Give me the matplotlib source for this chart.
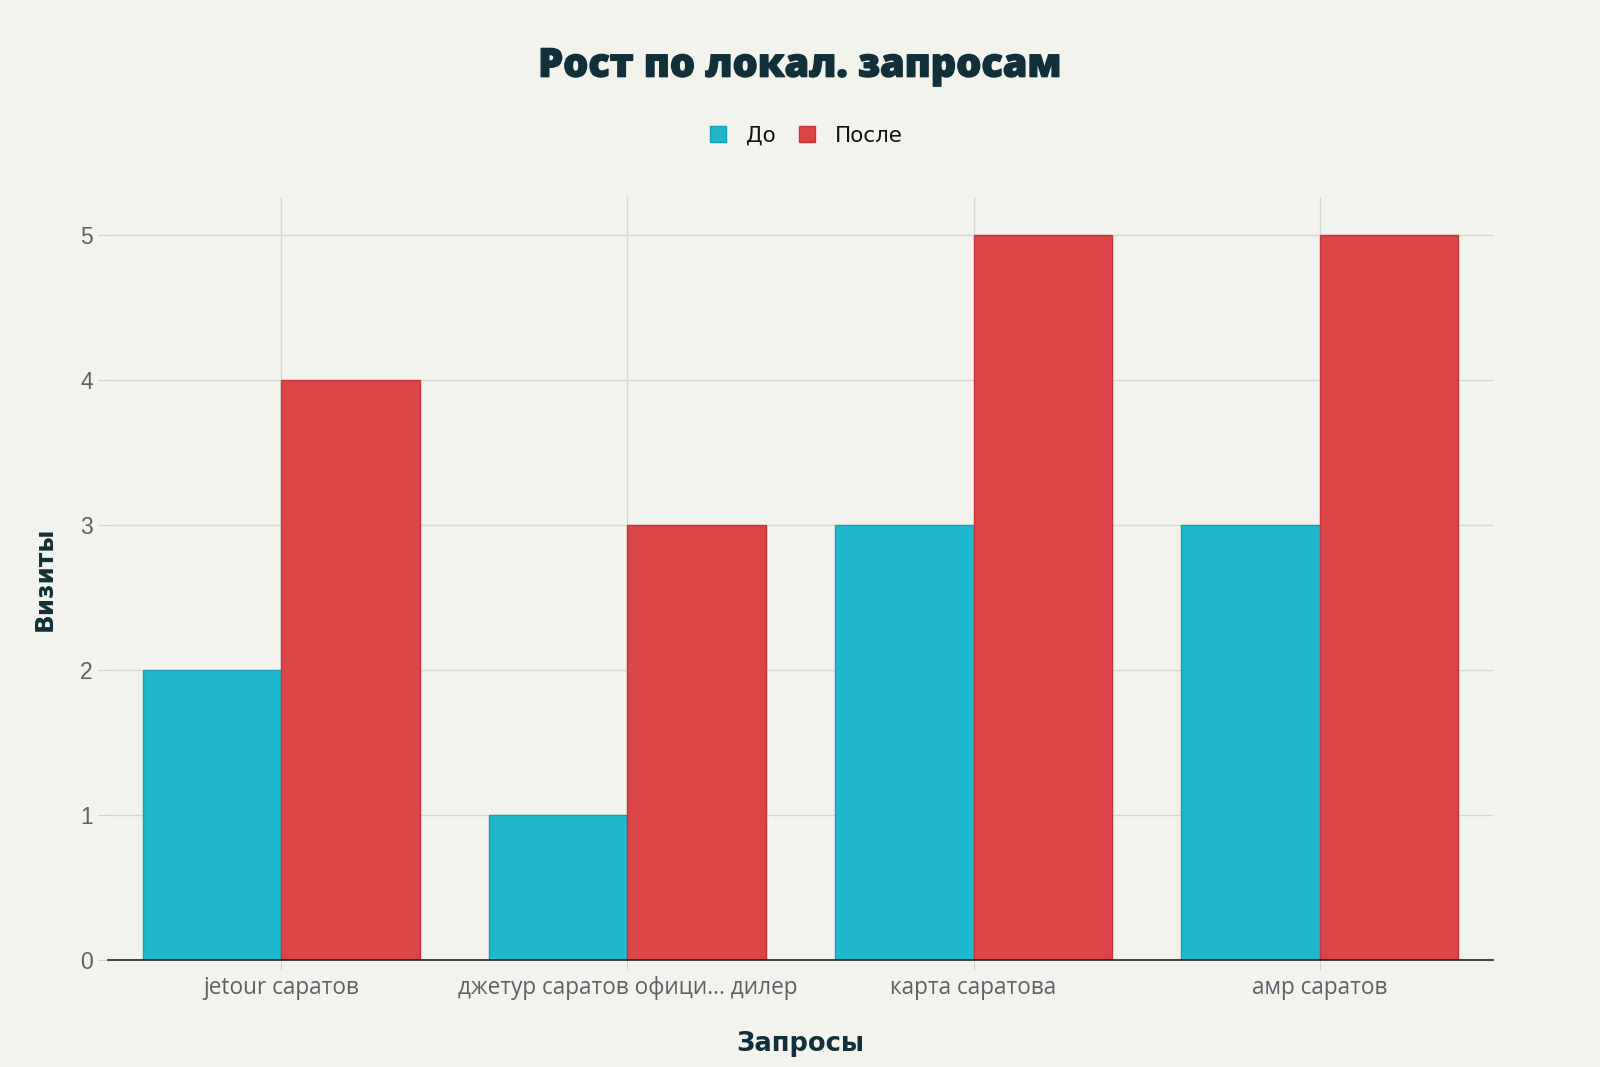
import matplotlib
matplotlib.use("Agg")
import matplotlib.pyplot as plt
import matplotlib.patheffects as pe
import numpy as np

categories = ["jetour саратов", "джетур саратов офици... дилер", "карта саратова", "амр саратов"]
before = [2, 1, 3, 3]
after = [4, 3, 5, 5]
series_names = ["До", "После"]
yticks = [0, 1, 2, 3, 4, 5]

BG = "#F3F3EE"
TEAL = "#20B8CC"
RED = "#DC4548"
DARK = "#12303A"
GRAY = "#5A6268"

fig = plt.figure(figsize=(16, 10.67), dpi=100, facecolor=BG)
ax = fig.add_axes([0.0675, 0.1003, 0.8656, 0.7151])
ax.set_facecolor(BG)

x = np.arange(len(categories))
w = 0.4
ax.bar(x - w/2, before, width=w, color=TEAL, edgecolor="#1A9DAE", linewidth=1, label=series_names[0], zorder=2)
ax.bar(x + w/2, after, width=w, color=RED, edgecolor="#C23538", linewidth=1, label=series_names[1], zorder=2)

ax.set_xlim(-0.5, len(categories) - 0.5)
ax.set_ylim(0, 5.262)
ax.set_yticks(yticks)
ax.set_xticks(x)
ax.set_xticklabels(categories, fontsize=16.3, color=GRAY, family=["Open Sans", "DejaVu Sans"])
ax.set_yticklabels([str(v) for v in yticks], fontsize=16.5, color=GRAY, family="Liberation Sans")

ax.grid(True, color="#D6D6D1", linewidth=1, zorder=0)
ax.set_axisbelow(True)
for s in ["top", "right", "left"]:
    ax.spines[s].set_visible(False)
ax.spines["bottom"].set_color("#222222")
ax.spines["bottom"].set_linewidth(1.2)
ax.spines["bottom"].set_zorder(3)
ax.tick_params(axis="x", length=7, color="#D0D0CC", pad=4.5)
ax.tick_params(axis="y", length=7, color="#D0D0CC", pad=4)

ax.set_xlabel("Запросы", fontsize=18.5, fontweight="bold", color=DARK, family="DejaVu Sans", labelpad=22)
ax.set_ylabel("Визиты", fontsize=17.7, fontweight="bold", color=DARK, family="DejaVu Sans", labelpad=17)

t = fig.text(0.5, 0.938, "Рост по локал. запросам", ha="center", va="center", fontsize=28.5,
             fontweight="heavy", color=DARK, family="Open Sans")
t.set_path_effects([pe.withStroke(linewidth=1.0, foreground=DARK)])

leg = fig.legend(loc="center", bbox_to_anchor=(0.504, 0.873), ncol=2, frameon=False,
                 prop={"family": "DejaVu Sans", "size": 15.5}, handlelength=0.75, handleheight=0.75,
                 handletextpad=0.9, columnspacing=1.1)
for txt in leg.get_texts():
    txt.set_color("#111111")

fig.savefig("out.png", dpi=100, facecolor=BG)
